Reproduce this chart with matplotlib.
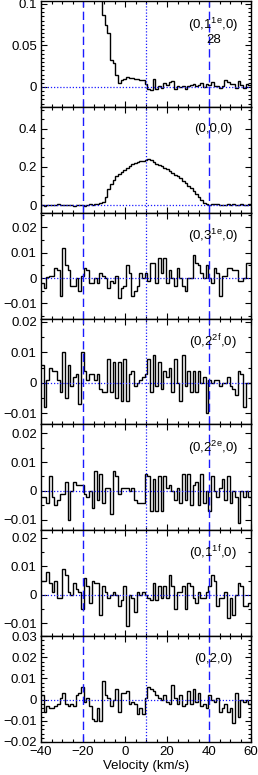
import numpy as np
import matplotlib
matplotlib.use("Agg")
import matplotlib.pyplot as plt
from matplotlib.ticker import MultipleLocator, FuncFormatter

plt.rcParams['font.family'] = ['Liberation Sans', 'DejaVu Sans']
plt.rcParams['mathtext.fontset'] = 'custom'
plt.rcParams['mathtext.rm'] = 'Liberation Sans'

v_min, v_max, n_chan = -40.0, 60.0, 79

labels = [r"(0,1$^{\mathrm{1e}}$,0)", "(0,0,0)", r"(0,3$^{\mathrm{1e}}$,0)",
          r"(0,2$^{\mathrm{2f}}$,0)", r"(0,2$^{\mathrm{2e}}$,0)", r"(0,1$^{\mathrm{1f}}$,0)", "(0,2,0)"]

s_11e = [0.40, 0.40, 0.39, 0.38, 0.37, 0.36, 0.35, 0.34, 0.33, 0.32, 0.31, 0.30, 0.29, 0.28, 0.27,
         0.26, 0.24, 0.22, 0.20, 0.18, 0.16, 0.14, 0.12, 0.087, 0.075, 0.065, 0.033, 0.029, 0.015,
         0.005, 0.008, 0.010, 0.012, 0.011, 0.011, 0.010, 0.009, 0.008, 0.008, 0.004, -0.003,
         -0.004, 0.010, -0.003, 0.001, -0.001, 0.005, 0.002, 0.006, 0.007, -0.003, 0.001, 0.0,
         0.001, -0.002, 0.001, 0.002, 0.004, 0.001, 0.002, 0.005, 0.0, 0.004, 0.002, 0.006, 0.001,
         0.001, -0.001, 0.001, 0.008, 0.006, 0.004, 0.003, -0.001, 0.007, 0.002, -0.001, 0.004, 0.002]
s_000 = [0.002, -0.003, 0.001, 0.0, -0.002, 0.002, 0.003, -0.001, 0.0, 0.002, -0.002, 0.001,
         -0.003, 0.0, 0.002, -0.002, -0.004, 0.0, 0.003, 0.002, 0.004, 0.005, 0.008, 0.015, 0.04,
         0.085, 0.11, 0.13, 0.15, 0.165, 0.175, 0.185, 0.195, 0.205, 0.215, 0.222, 0.228, 0.230,
         0.232, 0.234, 0.240, 0.236, 0.228, 0.218, 0.210, 0.203, 0.196, 0.188, 0.180, 0.170, 0.160,
         0.150, 0.140, 0.128, 0.115, 0.100, 0.088, 0.072, 0.058, 0.040, 0.025, 0.012, 0.005, 0.002,
         0.006, 0.004, 0.003, -0.002, 0.002, 0.0, 0.005, -0.001, 0.003, 0.001, -0.001, 0.004, 0.002,
         -0.002, 0.003]
s_31e = [-0.002, -0.004, 0.0005, 0.001, 0.001, 0.004, 0.003, -0.007, 0.012, 0.005, 0.003, -0.003,
         -0.003, 0.0, -0.005, 0.001, 0.004, 0.003, -0.002, -0.002, 0.0, -0.002, 0.002, 0.001, 0.0,
         -0.004, -0.001, -0.002, 0.001, -0.008, -0.004, -0.003, 0.005, 0.002, -0.007, -0.005, -0.003,
         0.002, 0.0, 0.002, -0.001, 0.006, 0.006, -0.002, 0.008, 0.002, 0.008, -0.002, 0.003, 0.0,
         -0.003, 0.004, 0.0, -0.003, -0.005, 0.0, 0.0, 0.009, 0.006, 0.005, 0.002, 0.0, 0.005, 0.0,
         -0.002, 0.004, 0.002, -0.007, 0.001, 0.001, 0.004, 0.004, 0.003, 0.003, -0.001, -0.001, 0.0,
         0.006, 0.006]
s_22f = [0.006, -0.008, 0.001, 0.005, 0.004, 0.004, 0.001, -0.003, 0.010, -0.005, 0.006, -0.001,
         0.002, 0.003, -0.007, 0.010, 0.004, 0.001, 0.003, 0.003, 0.001, 0.003, -0.002, -0.003,
         -0.003, 0.008, -0.003, 0.007, -0.005, 0.007, -0.006, 0.008, -0.006, 0.003, 0.004, -0.001,
         0.0, 0.001, 0.002, 0.003, 0.008, -0.003, 0.009, -0.001, 0.007, -0.002, 0.004, 0.002, 0.005,
         -0.003, 0.008, 0.0, -0.006, 0.009, -0.001, 0.004, -0.003, 0.004, -0.003, 0.004, 0.0, 0.002,
         -0.010, 0.001, 0.0, 0.001, 0.001, -0.001, 0.0, 0.0, 0.002, -0.001, -0.002, -0.004, 0.004,
         0.003, -0.008, 0.0, 0.0]
s_22e = [-0.002, -0.002, -0.004, 0.005, -0.002, -0.005, -0.003, -0.001, -0.001, 0.003, -0.010,
         0.0, 0.003, 0.002, 0.002, 0.002, -0.001, -0.002, 0.0, -0.006, 0.007, -0.003, 0.006, -0.004,
         0.001, 0.001, -0.008, 0.007, 0.005, -0.001, 0.001, 0.001, 0.001, 0.0, 0.001, -0.003, -0.004,
         -0.004, -0.004, 0.006, 0.005, -0.007, 0.004, -0.007, 0.005, -0.007, 0.005, 0.001, 0.002,
         0.0, -0.003, 0.001, -0.004, 0.006, -0.003, 0.006, -0.005, 0.002, 0.003, -0.005, 0.006,
         -0.004, 0.0, -0.007, 0.005, 0.0, -0.002, 0.001, 0.004, -0.003, 0.005, -0.004, 0.0, -0.002,
         -0.011, 0.0, -0.002, 0.0, -0.002]
s_11f = [0.005, 0.005, 0.008, 0.004, 0.001, 0.005, -0.001, -0.001, 0.009, 0.007, 0.001, 0.0,
         0.004, 0.002, 0.001, -0.005, 0.006, 0.003, -0.003, 0.005, 0.004, 0.004, -0.007, 0.003,
         0.001, -0.001, 0.0, 0.001, 0.0, -0.004, -0.002, 0.003, -0.011, 0.0, -0.001, -0.006, 0.001,
         0.0, 0.001, 0.0, -0.001, -0.002, 0.004, -0.002, 0.003, -0.001, 0.003, -0.001, 0.007, 0.003,
         -0.005, 0.001, 0.001, 0.003, -0.005, 0.004, 0.003, -0.001, -0.003, 0.001, -0.001, -0.001,
         0.001, 0.003, 0.007, 0.005, -0.004, -0.001, -0.001, 0.001, -0.008, -0.001, -0.007, 0.0,
         0.004, 0.003, -0.004, -0.004, -0.003]
s_020 = [0.002, -0.006, -0.003, -0.004, -0.004, -0.003, -0.002, 0.001, 0.003, -0.002, -0.003,
         -0.002, -0.003, 0.002, 0.003, 0.006, -0.001, 0.001, -0.003, -0.009, -0.010, -0.004, -0.010,
         0.009, 0.002, 0.001, -0.003, 0.0, 0.005, -0.006, 0.003, 0.003, 0.004, -0.002, -0.001,
         -0.002, -0.007, -0.004, -0.007, 0.001, 0.006, 0.005, 0.004, 0.002, 0.001, 0.0, 0.002,
         -0.001, -0.002, 0.007, 0.001, -0.002, 0.002, -0.003, -0.002, 0.004, -0.002, 0.005, -0.001,
         0.003, -0.003, -0.002, -0.004, 0.002, 0.0, -0.001, 0.001, -0.006, -0.004, -0.002, -0.006,
         -0.004, -0.011, 0.003, -0.008, 0.0, -0.001, 0.0, -0.002]

spectra = [s_11e, s_000, s_31e, s_22f, s_22e, s_11f, s_020]
ylims = [(-0.024, 0.1036), (-0.0405, 0.516), (-0.016, 0.0258), (-0.0136, 0.0211),
         (-0.0136, 0.023), (-0.0145, 0.0226), (-0.02, 0.03)]
y_major = [0.05, 0.2, 0.01, 0.01, 0.01, 0.01, 0.01]
y_minor = [0.005, 0.05, 0.005, 0.005, 0.005, 0.005, 0.002]
lab_y = [0.77, 0.79, 0.78, 0.78, 0.78, 0.78, 0.78]

edges = np.linspace(v_min, v_max, n_chan + 1)

W, H = 258, 775
fig = plt.figure(figsize=(W / 100, H / 100), dpi=100)
left, right = 41 / W, 251 / W
top_px, bot_px = 1.0, 742.0
ph = (bot_px - top_px) / 7

def fmt(x, pos):
    s = "%g" % round(x, 6)
    if s == "-0":
        s = "0"
    return s.replace("-", "\u2212")

axes = []
for k in range(7):
    y_top = top_px + k * ph
    ax = fig.add_axes([left, 1 - (y_top + ph) / H, right - left, ph / H])
    axes.append(ax)
    ax.stairs(spectra[k], edges, color='black', lw=1.0, baseline=None)
    ax.axhline(0, color='#1a1aff', ls=(0, (1, 1.5)), lw=0.9)
    ax.axvline(10, color='#1a1aff', ls=(0, (1, 1.5)), lw=0.9)
    for xv in (-20, 40):
        ax.axvline(xv, color='#1a1aff', ls=(0, (6, 3)), lw=1.0)
    ax.set_xlim(v_min, v_max)
    ax.set_ylim(*ylims[k])
    ax.xaxis.set_major_locator(MultipleLocator(20))
    ax.xaxis.set_minor_locator(MultipleLocator(5))
    ax.yaxis.set_major_locator(MultipleLocator(y_major[k]))
    ax.yaxis.set_minor_locator(MultipleLocator(y_minor[k]))
    ax.yaxis.set_major_formatter(FuncFormatter(fmt))
    ax.tick_params(which='both', direction='in', top=True, right=True, labelsize=9.5,
                   width=0.8, pad=3)
    ax.tick_params(which='major', length=4.3)
    ax.tick_params(which='minor', length=2.4)
    for sp in ax.spines.values():
        sp.set_linewidth(1.0)
    ax.text(0.82, lab_y[k], labels[k], transform=ax.transAxes, ha='center', va='center',
            fontsize=9.5)
    if k < 6:
        ax.tick_params(labelbottom=False)

axes[0].text(0.82, 0.635, "28", transform=axes[0].transAxes, ha='center', va='center',
             fontsize=9.5)
axes[6].set_xlabel("Velocity (km/s)", fontsize=9.5, labelpad=1)

fig.savefig("out.png", dpi=100)
